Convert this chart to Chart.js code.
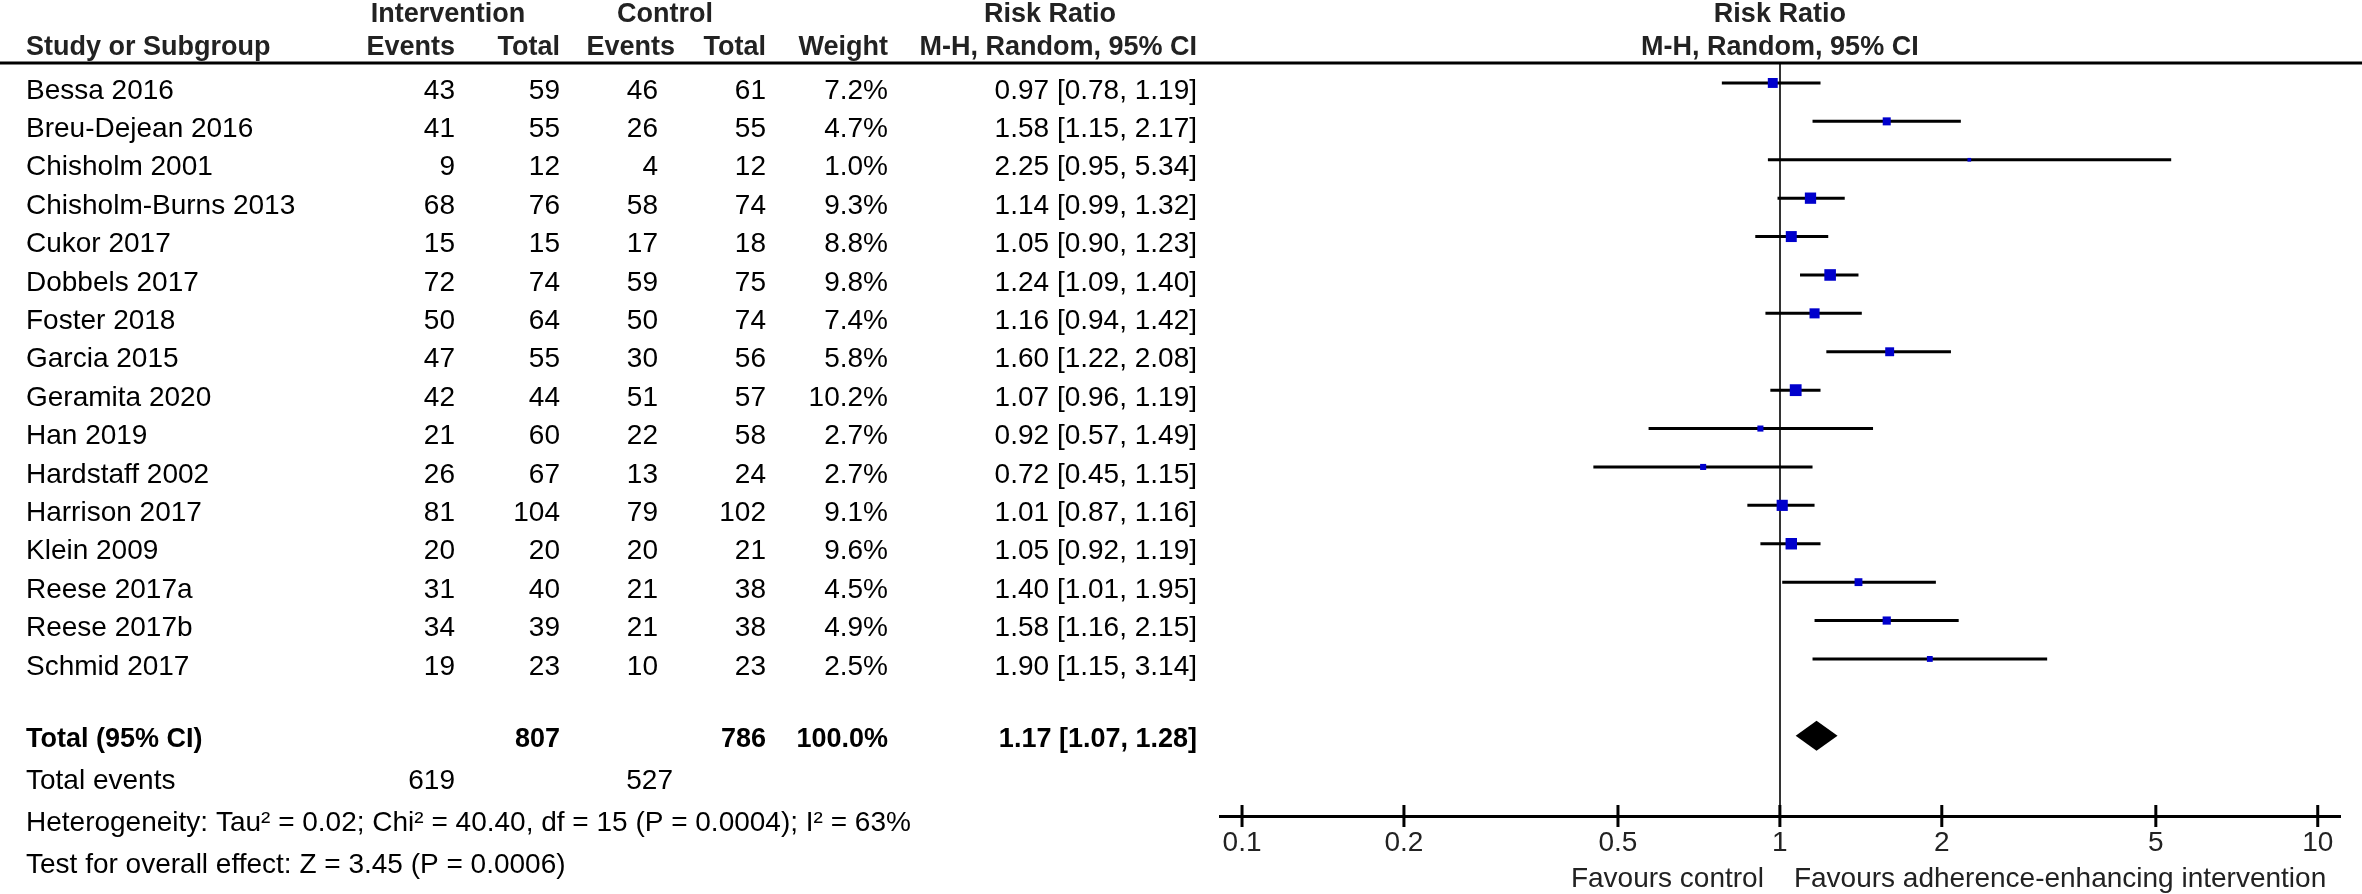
<!DOCTYPE html>
<html>
<head>
<meta charset="utf-8">
<title>Forest plot - adherence-enhancing interventions</title>
<script src="https://cdn.jsdelivr.net/npm/chart.js@4.4.1/dist/chart.umd.min.js"></script>
<style>
  html, body { margin: 0; padding: 0; background: #fff; }
  #wrap { width: 2362px; height: 894px; }
</style>
</head>
<body>
<div id="wrap"><canvas id="forest" width="2362" height="894"></canvas></div>
<script>
const studies = ['Bessa 2016', 'Breu-Dejean 2016', 'Chisholm 2001', 'Chisholm-Burns 2013', 'Cukor 2017',
  'Dobbels 2017', 'Foster 2018', 'Garcia 2015', 'Geramita 2020', 'Han 2019', 'Hardstaff 2002',
  'Harrison 2017', 'Klein 2009', 'Reese 2017a', 'Reese 2017b', 'Schmid 2017'];
const intEvents = [43, 41, 9, 68, 15, 72, 50, 47, 42, 21, 26, 81, 20, 31, 34, 19];
const intTotal = [59, 55, 12, 76, 15, 74, 64, 55, 44, 60, 67, 104, 20, 40, 39, 23];
const ctlEvents = [46, 26, 4, 58, 17, 59, 50, 30, 51, 22, 13, 79, 20, 21, 21, 10];
const ctlTotal = [61, 55, 12, 74, 18, 75, 74, 56, 57, 58, 24, 102, 21, 38, 38, 23];
const weights = [7.2, 4.7, 1.0, 9.3, 8.8, 9.8, 7.4, 5.8, 10.2, 2.7, 2.7, 9.1, 9.6, 4.5, 4.9, 2.5];
const riskRatio = [0.97, 1.58, 2.25, 1.14, 1.05, 1.24, 1.16, 1.60, 1.07, 0.92, 0.72, 1.01, 1.05, 1.40, 1.58, 1.90];
const ciLow = [0.78, 1.15, 0.95, 0.99, 0.90, 1.09, 0.94, 1.22, 0.96, 0.57, 0.45, 0.87, 0.92, 1.01, 1.16, 1.15];
const ciHigh = [1.19, 2.17, 5.34, 1.32, 1.23, 1.40, 1.42, 2.08, 1.19, 1.49, 1.15, 1.16, 1.19, 1.95, 2.15, 3.14];
const pooled = [1.17, 1.07, 1.28]; // estimate, lower, upper
const totalWeight = 100.0;
const tickValues = [0.1, 0.2, 0.5, 1, 2, 5, 10];
const statsLines = [
  'Heterogeneity: Tau\u00b2 = 0.02; Chi\u00b2 = 40.40, df = 15 (P = 0.0004); I\u00b2 = 63%',
  'Test for overall effect: Z = 3.45 (P = 0.0006)'
];
const favours = ['Favours control', 'Favours adherence-enhancing intervention'];

const sum = arr => arr.reduce((a, b) => a + b, 0);
const fmtCI = (r, l, h) => r.toFixed(2) + ' [' + l.toFixed(2) + ', ' + h.toFixed(2) + ']';

const FONT = '"Liberation Sans", Arial, sans-serif';
const BODY = '28px ' + FONT;
const BOLD = 'bold 27px ' + FONT;
const totalRow = studies.length + 1;   // one blank row before the total
const textDrop = 8;                    // text sits slightly below the marks
const footGap = 42;                    // line spacing under the total row

// column anchors (right aligned unless noted)
const col = { name: 26, intEv: 455, intTot: 560, ctlEv: 658, ctlTot: 766, weight: 888, ci: 1197 };

function txt(ctx, s, x, y, align, font, color) {
  ctx.font = font;
  ctx.textAlign = align;
  ctx.textBaseline = 'middle';
  ctx.fillStyle = color || '#000';
  ctx.fillText(s, x, y);
}

const tablePlugin = {
  id: 'forestTable',
  afterDraw(chart) {
    const { ctx, scales: { x, y } } = chart;
    const rowY = i => y.getPixelForValue(i) + textDrop;
    ctx.save();

    // headers
    const hc = '#222';
    txt(ctx, 'Intervention', 448, 15, 'center', BOLD, hc);
    txt(ctx, 'Control', 665, 15, 'center', BOLD, hc);
    txt(ctx, 'Risk Ratio', 1050, 15, 'center', BOLD, hc);
    txt(ctx, 'Risk Ratio', x.getPixelForValue(1), 15, 'center', BOLD, hc);
    txt(ctx, 'Study or Subgroup', col.name, 48, 'left', BOLD, hc);
    txt(ctx, 'Events', col.intEv, 48, 'right', BOLD, hc);
    txt(ctx, 'Total', col.intTot, 48, 'right', BOLD, hc);
    txt(ctx, 'Events', 675, 48, 'right', BOLD, hc);
    txt(ctx, 'Total', col.ctlTot, 48, 'right', BOLD, hc);
    txt(ctx, 'Weight', col.weight, 48, 'right', BOLD, hc);
    txt(ctx, 'M-H, Random, 95% CI', col.ci, 48, 'right', BOLD, hc);
    txt(ctx, 'M-H, Random, 95% CI', x.getPixelForValue(1), 48, 'center', BOLD, hc);

    // rule under the headers
    ctx.strokeStyle = '#000';
    ctx.lineWidth = 3;
    ctx.beginPath();
    ctx.moveTo(0, chart.chartArea.top);
    ctx.lineTo(chart.width, chart.chartArea.top);
    ctx.stroke();

    // study rows
    studies.forEach((s, i) => {
      const yy = rowY(i);
      txt(ctx, s, col.name, yy, 'left', BODY);
      txt(ctx, String(intEvents[i]), col.intEv, yy, 'right', BODY);
      txt(ctx, String(intTotal[i]), col.intTot, yy, 'right', BODY);
      txt(ctx, String(ctlEvents[i]), col.ctlEv, yy, 'right', BODY);
      txt(ctx, String(ctlTotal[i]), col.ctlTot, yy, 'right', BODY);
      txt(ctx, weights[i].toFixed(1) + '%', col.weight, yy, 'right', BODY);
      txt(ctx, fmtCI(riskRatio[i], ciLow[i], ciHigh[i]), col.ci, yy, 'right', BODY);
    });

    // total row
    const ty = y.getPixelForValue(totalRow) + 4;
    txt(ctx, 'Total (95% CI)', col.name, ty, 'left', BOLD);
    txt(ctx, String(sum(intTotal)), col.intTot, ty, 'right', BOLD);
    txt(ctx, String(sum(ctlTotal)), col.ctlTot, ty, 'right', BOLD);
    txt(ctx, totalWeight.toFixed(1) + '%', col.weight, ty, 'right', BOLD);
    txt(ctx, fmtCI(pooled[0], pooled[1], pooled[2]), col.ci, ty, 'right', BOLD);

    const ey = ty + footGap;
    txt(ctx, 'Total events', col.name, ey, 'left', BODY);
    txt(ctx, String(sum(intEvents)), col.intEv, ey, 'right', BODY);
    txt(ctx, String(sum(ctlEvents)), 673, ey, 'right', BODY);
    statsLines.forEach((s, k) => txt(ctx, s, col.name, ey + footGap * (k + 1), 'left', BODY));

    // tick marks crossing the axis
    const base = chart.chartArea.bottom;
    ctx.strokeStyle = '#000';
    ctx.lineWidth = 3;
    tickValues.forEach(v => {
      const px = x.getPixelForValue(v);
      ctx.beginPath();
      ctx.moveTo(px, base - 11);
      ctx.lineTo(px, base + 11);
      ctx.stroke();
    });

    // favours labels
    const one = x.getPixelForValue(1);
    txt(ctx, favours[0], one - 16, 879, 'right', BODY, '#222');
    txt(ctx, favours[1], one + 14, 879, 'left', BODY, '#222');

    // pooled diamond
    const dy = y.getPixelForValue(totalRow);
    ctx.fillStyle = '#000';
    ctx.beginPath();
    ctx.moveTo(x.getPixelForValue(pooled[1]), dy);
    ctx.lineTo(x.getPixelForValue(pooled[0]), dy - 15);
    ctx.lineTo(x.getPixelForValue(pooled[2]), dy);
    ctx.lineTo(x.getPixelForValue(pooled[0]), dy + 15);
    ctx.closePath();
    ctx.fill();
    ctx.restore();
  }
};

const ciSets = studies.map((s, i) => ({
  label: s,
  data: [{ x: ciLow[i], y: i }, { x: ciHigh[i], y: i }],
  showLine: true,
  borderColor: '#000',
  borderWidth: 3,
  pointRadius: 0,
  order: 1
}));

const squares = {
  label: 'Risk ratio',
  data: riskRatio.map((v, i) => ({ x: v, y: i })),
  pointStyle: 'rect',
  // square area proportional to the study weight
  pointRadius: weights.map(w => 3.7 * Math.sqrt(w) / Math.SQRT2),
  backgroundColor: '#0000cc',
  borderWidth: 0,
  order: 0
};

new Chart(document.getElementById('forest'), {
  type: 'scatter',
  data: { datasets: [...ciSets, squares] },
  plugins: [tablePlugin],
  options: {
    responsive: false,
    animation: false,
    events: [],
    layout: { padding: { left: 1220, right: 22, top: 63, bottom: 0 } },
    plugins: { legend: { display: false }, tooltip: { enabled: false } },
    scales: {
      x: {
        type: 'logarithmic',
        min: 0.091,
        max: 11,
        afterBuildTicks: axis => { axis.ticks = tickValues.map(v => ({ value: v })); },
        afterFit: axis => { axis.height = 78; },
        ticks: {
          autoSkip: false,
          maxRotation: 0,
          padding: 10,
          color: '#222',
          font: { family: FONT, size: 28 },
          callback: v => String(v)
        },
        grid: {
          drawTicks: false,
          lineWidth: 2,
          color: c => (c.tick && c.tick.value === 1 ? '#333' : 'rgba(0,0,0,0)')
        },
        border: { display: true, color: '#000', width: 3 }
      },
      y: {
        type: 'linear',
        display: false,
        reverse: true,
        min: -0.52,
        max: 19.09
      }
    }
  }
});
</script>
</body>
</html>
